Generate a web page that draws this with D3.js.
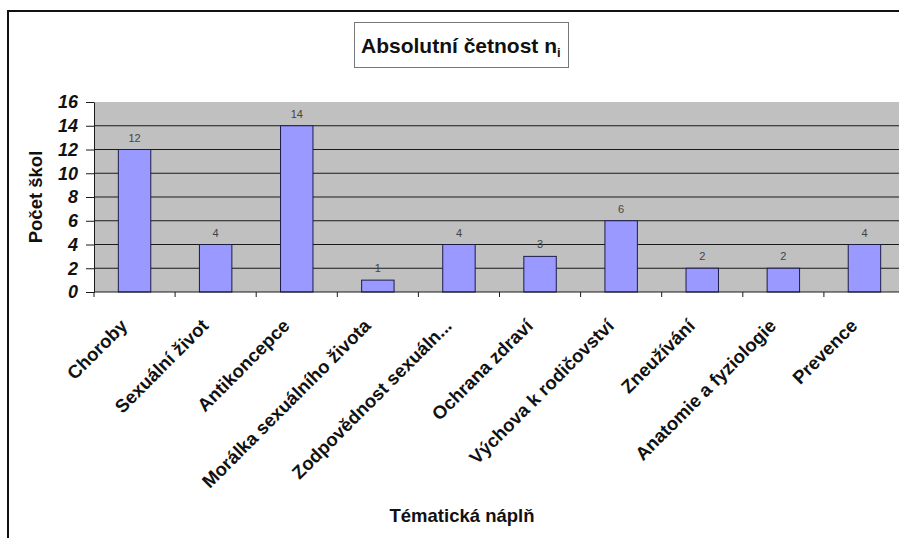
<!DOCTYPE html>
<html>
<head>
<meta charset="utf-8">
<script src="https://cdn.jsdelivr.net/npm/d3@7"></script>
<style>
  html, body { margin: 0; padding: 0; background: #fff; overflow: hidden; }
  svg { display: block; }
  text { font-family: Arial, "Liberation Sans", sans-serif; }
</style>
</head>
<body>
<svg id="chart" width="899" height="538"></svg>
<script>
// Tematické okruhy sexuální výchovy a počet škol, které je uvádějí
const categories = [
  "Choroby", "Sexuální život", "Antikoncepce", "Morálka sexuálního života",
  "Zodpovědnost sexuáln...", "Ochrana zdraví", "Výchova k rodičovství",
  "Zneužívání", "Anatomie a fyziologie", "Prevence"
];
const counts = [12, 4, 14, 1, 4, 3, 6, 2, 2, 4];
const yTicks = [0, 2, 4, 6, 8, 10, 12, 14, 16];

const titleText = "Absolutní četnost n";
const titleSub = "i";
const yTitle = "Počet škol";
const xTitle = "Tématická náplň";

const svg = d3.select("#chart");

// outer chart frame: left and top edges (the rest runs off the page)
svg.append("path")
  .attr("d", "M8,538 L8,11 L899,11")
  .attr("fill", "none").attr("stroke", "#111").attr("stroke-width", 2);

const plot = { left: 94, right: 905, top: 102, bottom: 292 };

const x = d3.scaleBand()
  .domain(categories)
  .range([plot.left, plot.right])
  .paddingInner(0.6)
  .paddingOuter(0.3);

const y = d3.scaleLinear().domain([0, 16]).range([plot.bottom, plot.top]);

// plot area background
svg.append("rect")
  .attr("x", plot.left).attr("y", plot.top)
  .attr("width", plot.right - plot.left).attr("height", plot.bottom - plot.top)
  .attr("fill", "#c0c0c0");

// horizontal gridlines
svg.append("g")
  .selectAll("line")
  .data(yTicks.filter(v => v > 0 && v < 16))
  .join("line")
  .attr("x1", plot.left).attr("x2", plot.right)
  .attr("y1", d => y(d)).attr("y2", d => y(d))
  .attr("stroke", "#1a1a1a").attr("stroke-width", 1);

// bars
svg.append("g")
  .selectAll("rect")
  .data(categories)
  .join("rect")
  .attr("x", d => x(d))
  .attr("y", (d, i) => y(counts[i]))
  .attr("width", x.bandwidth())
  .attr("height", (d, i) => y(0) - y(counts[i]))
  .attr("fill", "#9999ff")
  .attr("stroke", "#1c1c4a")
  .attr("stroke-width", 1);

// value labels above the bars
svg.append("g")
  .selectAll("text")
  .data(categories)
  .join("text")
  .attr("x", d => x(d) + x.bandwidth() / 2)
  .attr("y", (d, i) => y(counts[i]) - 8)
  .attr("text-anchor", "middle")
  .attr("font-size", 11)
  .attr("fill", "#444")
  .text((d, i) => counts[i]);

// y axis
const yAxis = svg.append("g")
  .attr("transform", `translate(${plot.left},0)`)
  .call(d3.axisLeft(y).tickValues(yTicks).tickSize(8).tickSizeOuter(0).tickPadding(8));
yAxis.select(".domain").attr("stroke", "#1a1a1a");
yAxis.selectAll(".tick line").attr("stroke", "#1a1a1a");
yAxis.selectAll(".tick text")
  .attr("font-family", "Arial, 'Liberation Sans', sans-serif")
  .attr("font-size", 18)
  .attr("font-weight", "bold")
  .attr("font-style", "italic")
  .attr("fill", "#111");

// x axis: baseline and ticks at category boundaries
const step = x.step();
const boundaries = d3.range(categories.length + 1).map(i => plot.left + i * step);
svg.append("line")
  .attr("x1", plot.left).attr("x2", plot.right)
  .attr("y1", plot.bottom).attr("y2", plot.bottom)
  .attr("stroke", "#1a1a1a");
svg.append("g")
  .selectAll("line")
  .data(boundaries)
  .join("line")
  .attr("x1", d => d).attr("x2", d => d)
  .attr("y1", plot.bottom).attr("y2", plot.bottom + 5)
  .attr("stroke", "#1a1a1a");

// rotated category labels
svg.append("g")
  .selectAll("text")
  .data(categories)
  .join("text")
  .attr("transform", d => `translate(${x(d) + x.bandwidth() / 2 - 6},${plot.bottom + 35}) rotate(-45)`)
  .attr("text-anchor", "end")
  .attr("font-size", 18.5)
  .attr("font-weight", "bold")
  .attr("fill", "#111")
  .text(d => d);

// title box
svg.append("rect")
  .attr("x", 354.5).attr("y", 22.5)
  .attr("width", 214).attr("height", 45)
  .attr("fill", "#fff").attr("stroke", "#777").attr("stroke-width", 1);
const title = svg.append("text")
  .attr("x", 361).attr("y", 53)
  .attr("font-size", 21)
  .attr("font-weight", "bold")
  .attr("fill", "#111");
title.append("tspan").text(titleText);
title.append("tspan").attr("font-size", 13).attr("dy", 4).text(titleSub);

// axis titles
svg.append("text")
  .attr("transform", "translate(42,197) rotate(-90)")
  .attr("text-anchor", "middle")
  .attr("font-size", 18.5)
  .attr("font-weight", "bold")
  .attr("fill", "#111")
  .text(yTitle);

svg.append("text")
  .attr("x", 462).attr("y", 522)
  .attr("text-anchor", "middle")
  .attr("font-size", 18.5)
  .attr("font-weight", "bold")
  .attr("fill", "#111")
  .text(xTitle);
</script>
</body>
</html>
